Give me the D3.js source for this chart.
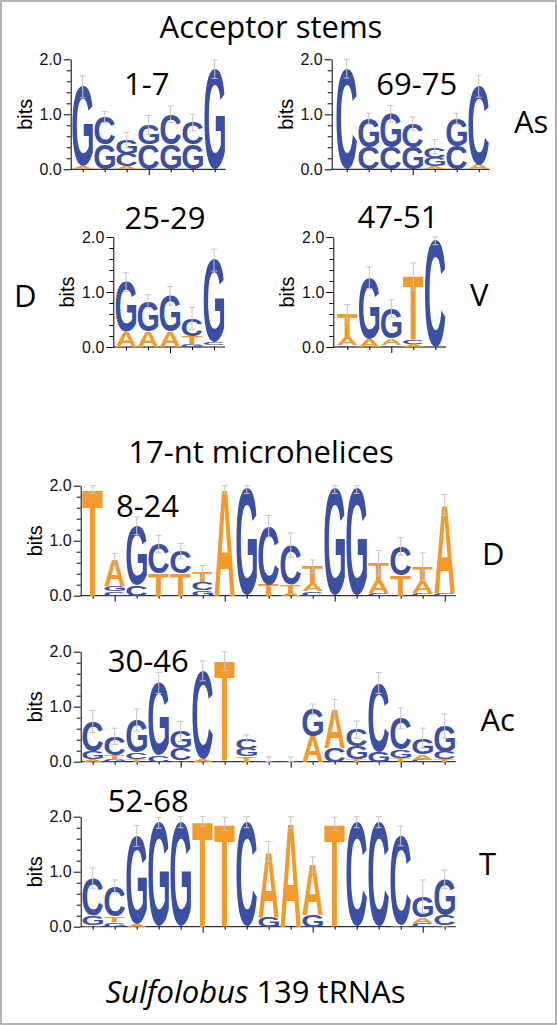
<!DOCTYPE html>
<html><head><meta charset="utf-8">
<script src="https://cdn.jsdelivr.net/npm/d3@7"></script>
<style>body{margin:0;background:#fff} svg{display:block}</style>
</head><body>
<svg id="chart" width="557" height="1025"></svg>
<script>
// ---------- DATA ----------
const nucleotides = ["A", "C", "G", "T"];
const yMajorTicks = [0, 1, 2];
const yMinorTicks = [0.2, 0.4, 0.6, 0.8, 1.2, 1.4, 1.6, 1.8];

// stacks: per position, letters bottom -> top with height in bits
const stack1_7 = [
  [["A",0.05],["G",1.45]],
  [["G",0.45],["C",0.5]],
  [["A",0.05],["C",0.23],["G",0.25]],
  [["C",0.45],["G",0.36]],
  [["G",0.45],["C",0.55]],
  [["G",0.45],["C",0.4]],
  [["G",1.82]]
];
const err1_7 = [0.2, 0.1, 0.14, 0.17, 0.15, 0.15, 0.17];
const major1_7 = [4];

const stack69_75 = [
  [["C",1.83]],
  [["C",0.4],["G",0.52]],
  [["C",0.4],["G",0.61]],
  [["G",0.4],["C",0.43]],
  [["A",0.05],["G",0.16],["C",0.2]],
  [["C",0.42],["G",0.5]],
  [["A",0.08],["C",1.43]]
];
const err69_75 = [0.17, 0.1, 0.15, 0.12, 0.13, 0.1, 0.2];
const major69_75 = [4];

const stack25_29 = [
  [["A",0.28],["G",0.9]],
  [["A",0.28],["G",0.55]],
  [["A",0.28],["G",0.65]],
  [["G",0.05],["T",0.15],["C",0.32]],
  [["A",0.03],["C",0.05],["G",1.5]]
];
const err25_29 = [0.17, 0.12, 0.17, 0.2, 0.2];
const major25_29 = [3];

const stack47_51 = [
  [["C",0.03],["A",0.15],["T",0.42]],
  [["A",0.15],["G",1.11]],
  [["C",0.03],["A",0.12],["G",0.55]],
  [["A",0.05],["C",0.08],["T",1.15]],
  [["C",1.93]]
];
const err47_51 = [0.17, 0.2, 0.16, 0.25, 0.07];
const major47_51 = [3];

const stack8_24 = [
  [["T",1.93]],
  [["C",0.08],["G",0.1],["A",0.47]],
  [["C",0.2],["G",1.07]],
  [["T",0.4],["C",0.54]],
  [["T",0.4],["C",0.41]],
  [["G",0.1],["C",0.15],["T",0.19]],
  [["A",1.93]],
  [["G",1.93]],
  [["T",0.2],["C",1.06]],
  [["A",0.05],["T",0.15],["C",0.72]],
  [["C",0.08],["A",0.15],["T",0.3]],
  [["G",1.93]],
  [["G",1.93]],
  [["C",0.05],["A",0.24],["T",0.3]],
  [["T",0.37],["C",0.53]],
  [["C",0.05],["A",0.2],["T",0.28]],
  [["C",0.05],["A",1.6]]
];
const err8_24 = [0.07,0.12,0.16,0.16,0.14,0.11,0.07,0.07,0.2,0.22,0.12,0.07,0.07,0.23,0.16,0.25,0.19];
const major8_24 = [2, 7, 12, 17];

const stack30_46 = [
  [["A",0.05],["G",0.13],["C",0.55]],
  [["G",0.04],["T",0.08],["C",0.34]],
  [["T",0.05],["C",0.12],["G",0.59]],
  [["C",0.12],["G",1.31]],
  [["A",0.03],["C",0.22],["G",0.3]],
  [["A",0.05],["C",1.6]],
  [["C",0.02],["T",1.81]],
  [["T",0.1],["G",0.13],["C",0.2]],
  [["C",0.01]],
  [["C",0.01]],
  [["A",0.46],["G",0.49]],
  [["C",0.25],["A",0.7]],
  [["T",0.05],["G",0.23],["C",0.3]],
  [["G",0.18],["C",1.25]],
  [["T",0.07],["G",0.15],["C",0.57]],
  [["C",0.04],["A",0.1],["G",0.29]],
  [["T",0.04],["C",0.13],["G",0.48]]
];
const err30_46 = [0.2,0.15,0.2,0.19,0.18,0.18,0.17,0.06,0.08,0.08,0.1,0.18,0.16,0.19,0.19,0.18,0.22];
const major30_46 = [5, 10, 15];

const stack52_68 = [
  [["A",0.03],["G",0.17],["C",0.68]],
  [["G",0.08],["T",0.1],["C",0.55]],
  [["A",0.04],["G",1.61]],
  [["G",1.89]],
  [["G",1.9]],
  [["T",1.91]],
  [["T",1.87]],
  [["C",1.9]],
  [["G",0.18],["A",1.19]],
  [["A",1.89]],
  [["G",0.21],["A",0.92]],
  [["T",1.87]],
  [["C",1.9]],
  [["C",1.9]],
  [["A",0.03],["C",1.62]],
  [["C",0.07],["A",0.1],["G",0.38]],
  [["T",0.03],["C",0.18],["G",0.65]]
];
const err52_68 = [0.19,0.12,0.19,0.1,0.1,0.09,0.12,0.1,0.18,0.11,0.14,0.12,0.1,0.1,0.18,0.3,0.17];
const major52_68 = [6, 11, 16];

// ---------- STYLE ----------
const colorOf = {A: "#f39a2b", T: "#f39a2b", C: "#3b4fa3", G: "#3b4fa3"};
const LABEL_FONT = "'Open Sans', Lato, sans-serif";
const AXIS_FONT = "'Liberation Sans', Arial, sans-serif";
const LABEL_SIZE = 31;

const svg = d3.select("#chart");
svg.append("rect").attr("x", 1).attr("y", 1).attr("width", 555).attr("height", 1023)
  .attr("fill", "#fff").attr("stroke", "#9a9a9a").attr("stroke-width", 1.5);

// glyph ink metrics
const ctx = document.createElement("canvas").getContext("2d");
ctx.font = "bold 100px 'Liberation Sans'";
const glyph = {};
nucleotides.forEach(l => {
  const m = ctx.measureText(l);
  glyph[l] = {l: m.actualBoundingBoxLeft, r: m.actualBoundingBoxRight,
              a: m.actualBoundingBoxAscent, d: m.actualBoundingBoxDescent};
});

function drawLogo(cfg, stacks, errs, majors) {
  const n = stacks.length;
  const g = svg.append("g");
  const y = d3.scaleLinear().domain([0, 2]).range([cfg.y0, cfg.y0 - 110]);
  const x = d3.scaleLinear().domain([1, n]).range([cfg.first, cfg.first + (n - 1) * 22]);
  const letterW = 20.5;

  g.append("g").attr("transform", `translate(${cfg.axisX},0)`)
    .call(d3.axisLeft(y).tickValues(yMinorTicks).tickSize(4).tickFormat(""))
    .call(s => s.select(".domain").remove());
  g.append("g").attr("transform", `translate(${cfg.axisX},0)`)
    .call(d3.axisLeft(y).tickValues(yMajorTicks).tickSize(7).tickSizeOuter(0).tickPadding(2).tickFormat(d3.format(".1f")))
    .call(s => s.selectAll("text").attr("font-family", AXIS_FONT).attr("font-size", 16).attr("fill", "#111"));

  const xEnd = x(n) + 11;
  g.append("line").attr("x1", cfg.axisX).attr("x2", xEnd).attr("y1", cfg.y0).attr("y2", cfg.y0)
    .attr("stroke", "#000").attr("stroke-width", 1);
  const pos = d3.range(1, n + 1);
  g.append("g").attr("transform", `translate(0,${cfg.y0})`)
    .call(d3.axisBottom(x).tickValues(pos.filter(p => !majors.includes(p))).tickSize(3).tickFormat(""))
    .call(s => s.select(".domain").remove());
  g.append("g").attr("transform", `translate(0,${cfg.y0})`)
    .call(d3.axisBottom(x).tickValues(majors).tickSize(6).tickFormat(""))
    .call(s => s.select(".domain").remove());

  g.append("text").attr("transform", `translate(${cfg.axisX - 46},${cfg.y0 - 55}) rotate(-90)`)
    .attr("text-anchor", "middle").attr("dominant-baseline", "central")
    .attr("font-family", AXIS_FONT).attr("font-size", 20).text("bits");

  stacks.forEach((stack, i) => {
    let cum = 0;
    const cx = x(i + 1);
    stack.forEach(([l, h]) => {
      const top = y(cum + h), bot = y(cum);
      cum += h;
      const gm = glyph[l];
      const sx = letterW / (gm.l + gm.r), sy = (bot - top) / (gm.a + gm.d);
      g.append("text")
        .attr("transform", `translate(${cx - letterW / 2},${top}) scale(${sx},${sy}) translate(${gm.l},${gm.a})`)
        .attr("font-family", "'Liberation Sans', Arial, sans-serif").attr("font-weight", "bold")
        .attr("font-size", 100).attr("fill", colorOf[l]).text(l);
    });
    const e = errs[i];
    const y1 = y(Math.max(0, cum - e)), y2 = y(cum + e);
    const eb = g.append("g").attr("stroke", "#c4c4c4").attr("stroke-width", 1);
    eb.append("line").attr("x1", cx).attr("x2", cx).attr("y1", y1).attr("y2", y2);
    eb.append("line").attr("x1", cx - 3).attr("x2", cx + 3).attr("y1", y2).attr("y2", y2);
    eb.append("line").attr("x1", cx - 3).attr("x2", cx + 3).attr("y1", y1).attr("y2", y1);
  });
}

drawLogo({axisX: 70.7, y0: 169.3, first: 82.7}, stack1_7, err1_7, major1_7);
drawLogo({axisX: 331.7, y0: 169.3, first: 346.7}, stack69_75, err69_75, major69_75);
drawLogo({axisX: 113.3, y0: 347, first: 126}, stack25_29, err25_29, major25_29);
drawLogo({axisX: 333.3, y0: 347, first: 347.3}, stack47_51, err47_51, major47_51);
drawLogo({axisX: 80.7, y0: 595.7, first: 92.7}, stack8_24, err8_24, major8_24);
drawLogo({axisX: 80.7, y0: 761.7, first: 92.7}, stack30_46, err30_46, major30_46);
drawLogo({axisX: 80.7, y0: 926.7, first: 92.7}, stack52_68, err52_68, major52_68);

// ---------- TEXT ----------
function label(txt, x, y, anchor) {
  return svg.append("text").attr("x", x).attr("y", y).attr("text-anchor", anchor || "middle")
    .attr("font-family", LABEL_FONT).attr("font-size", LABEL_SIZE).attr("fill", "#000").text(txt);
}
label("Acceptor stems", 271, 38);
label("1-7", 146.7, 95);
label("69-75", 416.7, 95);
label("As", 514, 133, "start");
label("25-29", 165, 229);
label("47-51", 398, 228);
label("D", 14, 306.5, "start");
label("V", 470, 306, "start");
label("17-nt microhelices", 261, 462.7);
label("8-24", 147.5, 516.7);
label("D", 482, 565, "start");
label("30-46", 148.3, 671.7);
label("Ac", 480.5, 730.7, "start");
label("52-68", 148.3, 811.7);
label("T", 479, 875, "start");
const foot = svg.append("text").attr("x", 255.5).attr("y", 1003).attr("text-anchor", "middle")
  .attr("font-family", LABEL_FONT).attr("font-size", LABEL_SIZE).attr("fill", "#000");
foot.append("tspan").attr("font-style", "italic").text("Sulfolobus");
foot.append("tspan").text(" 139 tRNAs");
</script>
</body></html>
